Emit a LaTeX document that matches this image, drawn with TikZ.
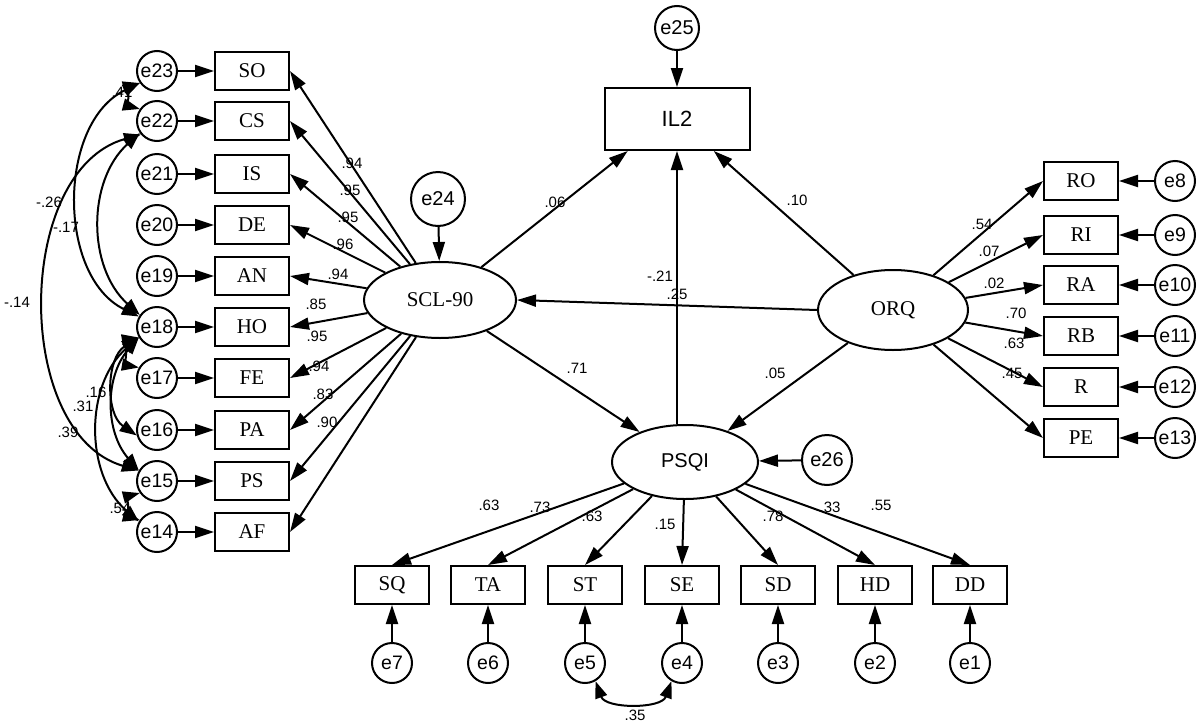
\documentclass[tikz,border=0pt]{standalone}
\usepackage{fontspec}
\setmainfont{Liberation Serif}
\setsansfont{Liberation Sans}
\usetikzlibrary{shapes.geometric,arrows.meta}
\begin{document}
\begin{tikzpicture}[x=1pt,y=-1pt,
  lw/.style={line width=2pt},
  obs/.style={draw,lw,rectangle,minimum width=74pt,minimum height=38pt,inner sep=0pt,font=\fontsize{21}{21}\selectfont},
  err/.style={draw,lw,circle,minimum size=40pt,inner sep=0pt,font=\sffamily\fontsize{19.5}{19.5}\selectfont},
  lat/.style={draw,lw,ellipse,inner sep=0pt},
  coef/.style={font=\sffamily\fontsize{15}{15}\selectfont,inner sep=0pt},
  arr/.style={lw,-{Triangle[length=19pt,width=12pt]}},
  cov/.style={lw,{Triangle[length=17pt,width=12pt]}-{Triangle[length=17pt,width=12pt]}},
]
\useasboundingbox (0,0) rectangle (1200,726);
\fill[white] (0,0) rectangle (1200,726);

% ---- left block: errors and indicators of SCL-90
\foreach \n/\lab/\y in {e23/SO/71,e22/CS/121,e21/IS/174,e20/DE/225,e19/AN/276,e18/HO/327,e17/FE/378,e16/PA/430,e15/PS/481,e14/AF/532}{
  \node[err] (\n) at (157,\y) {\n};
  \node[obs] (\lab) at (252,\y) {\lab};
  \draw[arr] (\n) -- (\lab);
}

% ---- latent variables
\node[lat,minimum width=152pt,minimum height=76pt,font=\fontsize{21}{21}\selectfont] (scl) at (440,300) {SCL-90};
\node[lat,minimum width=150pt,minimum height=80pt,font=\fontsize{21}{21}\selectfont] (orq) at (893,310) {ORQ};
\node[lat,minimum width=146pt,minimum height=74pt,font=\sffamily\fontsize{20}{20}\selectfont] (psqi) at (685,462) {PSQI};
\node[obs,minimum width=145pt,minimum height=62pt,font=\sffamily\fontsize{22}{22}\selectfont] (il2) at (677,119) {IL2};

\node[err,minimum size=54pt,font=\sffamily\fontsize{20}{20}\selectfont] (e24) at (438,199) {e24};
\node[err,minimum size=44pt,font=\sffamily\fontsize{20}{20}\selectfont] (e25) at (677,28) {e25};
\node[err,minimum size=50pt,font=\sffamily\fontsize{20}{20}\selectfont] (e26) at (827,460) {e26};

\draw[arr] (e24) -- (scl);
\draw[arr] (e25) -- (il2);
\draw[arr] (e26) -- (psqi);

% ---- right block: ORQ indicators
\foreach \n/\lab/\y in {e8/RO/181,e9/RI/235,e10/RA/285,e11/RB/336,e12/R/387,e13/PE/438}{
  \node[obs] (\lab) at (1081,\y) {\lab};
  \node[err] (\n) at (1175,\y) {\n};
  \draw[arr] (\n) -- (\lab);
  \draw[arr] (orq) -- (\lab.west);
}

% ---- bottom block: PSQI indicators
\foreach \n/\lab/\x in {e7/SQ/392,e6/TA/488,e5/ST/585,e4/SE/682,e3/SD/778,e2/HD/875,e1/DD/970}{
  \node[obs] (\lab) at (\x,585) {\lab};
  \node[err] (\n) at (\x,663) {\n};
  \draw[arr] (\n) -- (\lab);
  \draw[arr] (psqi) -- (\lab.north);
}

% ---- SCL-90 loadings
\foreach \lab in {SO,CS,IS,DE,AN,HO,FE,PA,PS,AF}{
  \draw[arr] (scl) -- (\lab.east);
}

% ---- structural paths
\draw[arr] (scl) -- (il2.213);
\draw[arr] (orq) -- (il2.-41.5);
\draw[arr] (psqi.north -| il2.south) -- (il2.south);
\draw[arr] (orq.west) -- (scl.east);
\draw[arr] (scl) -- (psqi);
\draw[arr] (orq) -- (psqi);

% ---- coefficient labels
\node[coef] (c1) at (352,163) {.94};
\node[coef] (c2) at (350,190) {.95};
\node[coef] (c3) at (348,217) {.95};
\node[coef] (c4) at (343,244) {.96};
\node[coef] (c5) at (338,274) {.94};
\node[coef] (c6) at (316,304) {.85};
\node[coef] (c7) at (317,336) {.95};
\node[coef] (c8) at (319,366) {.94};
\node[coef] (c9) at (323,394) {.83};
\node[coef] (c10) at (327,422) {.90};

\node[coef] (s1) at (555,202) {.06};
\node[coef] (s2) at (797,200) {.10};
\node[coef] (s3) at (660,276) {-.21};
\node[coef] (s4) at (677,294) {.25};
\node[coef] (s5) at (577,368) {.71};
\node[coef] (s6) at (775,373) {.05};

\node[coef] (r1) at (982,224) {.54};
\node[coef] (r2) at (989,251) {.07};
\node[coef] (r3) at (994,283) {.02};
\node[coef] (r4) at (1016,313) {.70};
\node[coef] (r5) at (1014,343) {.63};
\node[coef] (r6) at (1012,373) {.45};

\node[coef] (p1) at (489,505) {.63};
\node[coef] (p2) at (540,507) {.73};
\node[coef] (p3) at (592,516) {.63};
\node[coef] (p4) at (665,524) {.15};
\node[coef] (p5) at (773,516) {.78};
\node[coef] (p6) at (830,507) {.33};
\node[coef] (p7) at (881,505) {.55};

\node[coef] (k1) at (635,715) {.35};

\node[coef] (l1) at (122,92) {.41};
\node[coef] (l2) at (49,202) {-.26};
\node[coef] (l3) at (66,227) {-.17};
\node[coef] (l4) at (17,302) {-.14};
\node[coef] (l5) at (96,392) {.16};
\node[coef] (l6) at (83,406) {.31};
\node[coef] (l7) at (68,432) {.39};
\node[coef] (l8) at (120,508) {.54};

% ---- covariances
\draw[cov] (e23.215) to[bend right=75] (e22.145);
\draw[cov] (e23.215) to[bend right=64] (e18.150);
\draw[cov] (e22.215) to[bend right=48] (e18.145);
\draw[cov] (e22.220) to[bend right=74] (e15.150);
\draw[cov] (e18.210) to[bend right=80] (e17.150);
\draw[cov] (e18.210) to[bend right=57] (e16.195);
\draw[cov] (e18.210) to[bend right=41] (e15.150);
\draw[cov] (e18.210) to[bend right=49] (e14.150);
\draw[cov] (e15.215) to[bend right=75] (e14.145);
\draw[cov] (e5.300) to[bend right=70] (e4.240);
\end{tikzpicture}
\end{document}
